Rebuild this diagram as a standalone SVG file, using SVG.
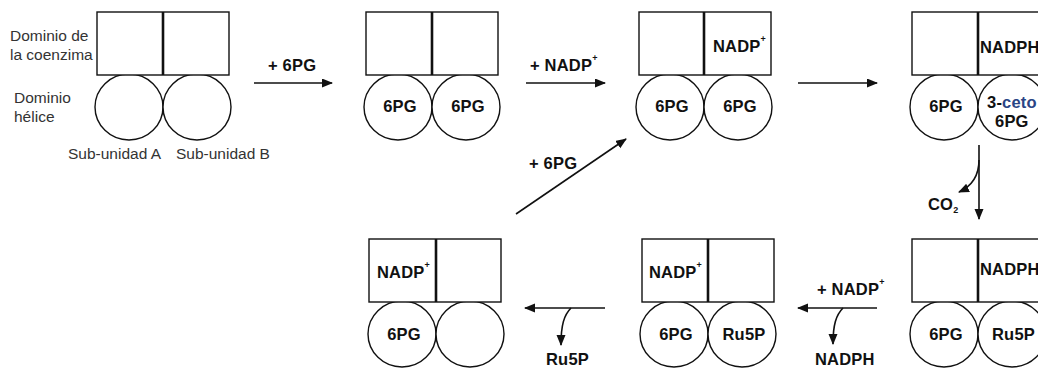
<svg xmlns="http://www.w3.org/2000/svg" width="1038" height="369" viewBox="0 0 1038 369">
<style>
.box{fill:#fff;stroke:#111;stroke-width:1.4}
.div{stroke:#111;stroke-width:2.6}
.c{fill:#fff;stroke:#111;stroke-width:1.4}
.t{font-family:"Liberation Sans",Arial,sans-serif;font-weight:bold;font-size:16.5px;letter-spacing:0.2px;fill:#111}
.tm{text-anchor:middle}
.n{font-family:"Liberation Sans",Arial,sans-serif;font-size:15.5px;fill:#333}
.sup{font-size:9px}
.ar{fill:none;stroke:#111;stroke-width:1.6}
</style>
<defs>
<marker id="ah" markerUnits="userSpaceOnUse" markerWidth="12" markerHeight="10" refX="10" refY="4.5" orient="auto">
<path d="M0,0 L11,4.5 L0,9 z" fill="#111"/>
</marker>
</defs>
<rect width="1038" height="369" fill="#fff"/>

<g id="labels">
<text class="n" x="10" y="41">Dominio de</text>
<text class="n" x="10" y="60">la coenzima</text>
<text class="n" x="14" y="103">Dominio</text>
<text class="n" x="14" y="122">hélice</text>
<text class="n" x="68" y="159">Sub-unidad A</text>
<text class="n" x="176" y="159">Sub-unidad B</text>
</g>

<g id="node1">
<ellipse class="c" cx="129" cy="107" rx="34" ry="33"/>
<ellipse class="c" cx="197" cy="107" rx="34" ry="33"/>
<rect class="box" x="97" y="12" width="132" height="63"/>
<line class="div" x1="163" y1="12" x2="163" y2="75"/>
</g>

<g id="node2">
<ellipse class="c" cx="398" cy="107" rx="34" ry="33"/>
<ellipse class="c" cx="466" cy="107" rx="34" ry="33"/>
<rect class="box" x="366" y="12" width="132" height="63"/>
<line class="div" x1="432" y1="12" x2="432" y2="75"/>
<text class="t tm" x="400" y="112">6PG</text>
<text class="t tm" x="468" y="112">6PG</text>
</g>

<g id="node3">
<ellipse class="c" cx="670" cy="107" rx="34" ry="33"/>
<ellipse class="c" cx="738" cy="107" rx="34" ry="33"/>
<rect class="box" x="639" y="12" width="132" height="63"/>
<line class="div" x1="704" y1="12" x2="704" y2="75"/>
<text class="t" x="713" y="52">NADP<tspan class="sup" dy="-10">+</tspan></text>
<text class="t tm" x="672" y="112">6PG</text>
<text class="t tm" x="740" y="112">6PG</text>
</g>

<g id="node4">
<ellipse class="c" cx="944" cy="107" rx="34" ry="33"/>
<ellipse class="c" cx="1012" cy="107" rx="34" ry="33"/>
<rect class="box" x="912" y="12" width="132" height="63"/>
<line class="div" x1="978" y1="12" x2="978" y2="75"/>
<text class="t" x="980" y="53">NADPH</text>
<text class="t tm" x="946" y="112">6PG</text>
<text class="t" x="987" y="108">3-<tspan fill="#2a4585">ceto</tspan></text>
<text class="t" x="995" y="127">6PG</text>
</g>

<g id="node5">
<ellipse class="c" cx="944" cy="334" rx="34" ry="33"/>
<ellipse class="c" cx="1012" cy="334" rx="34" ry="33"/>
<rect class="box" x="912" y="239" width="132" height="63"/>
<line class="div" x1="978" y1="239" x2="978" y2="302"/>
<text class="t" x="980" y="275">NADPH</text>
<text class="t tm" x="946" y="340">6PG</text>
<text class="t" x="992" y="340">Ru5P</text>
</g>

<g id="node6">
<ellipse class="c" cx="674" cy="334" rx="34" ry="33"/>
<ellipse class="c" cx="742" cy="334" rx="34" ry="33"/>
<rect class="box" x="642" y="239" width="132" height="63"/>
<line class="div" x1="708" y1="239" x2="708" y2="302"/>
<text class="t" x="649" y="278">NADP<tspan class="sup" dy="-10">+</tspan></text>
<text class="t tm" x="676" y="340">6PG</text>
<text class="t tm" x="744" y="340">Ru5P</text>
</g>

<g id="node7">
<ellipse class="c" cx="402" cy="334" rx="34" ry="33"/>
<ellipse class="c" cx="470" cy="334" rx="34" ry="33"/>
<rect class="box" x="369" y="239" width="132" height="63"/>
<line class="div" x1="436" y1="239" x2="436" y2="302"/>
<text class="t" x="377" y="278">NADP<tspan class="sup" dy="-10">+</tspan></text>
<text class="t tm" x="404" y="340">6PG</text>
</g>

<g id="connectors">
<line class="ar" x1="254" y1="83" x2="332" y2="83" marker-end="url(#ah)"/>
<text class="t" x="268" y="71">+ 6PG</text>
<line class="ar" x1="526" y1="83" x2="605" y2="83" marker-end="url(#ah)"/>
<text class="t" x="530" y="71">+ NADP<tspan class="sup" dy="-10">+</tspan></text>
<line class="ar" x1="798" y1="83" x2="877" y2="83" marker-end="url(#ah)"/>
<line class="ar" x1="979" y1="145" x2="979" y2="219" marker-end="url(#ah)"/>
<path class="ar" d="M979,160 C979,176 972,186 959,192" marker-end="url(#ah)"/>
<text class="t" x="928" y="210">CO<tspan class="sup" dy="3">2</tspan></text>
<line class="ar" x1="877" y1="308" x2="798" y2="308" marker-end="url(#ah)"/>
<text class="t" x="817" y="295">+ NADP<tspan class="sup" dy="-10">+</tspan></text>
<path class="ar" d="M843,308 C836,315 833,325 833,344" marker-end="url(#ah)"/>
<text class="t" x="815" y="365">NADPH</text>
<line class="ar" x1="605" y1="308" x2="525" y2="308" marker-end="url(#ah)"/>
<path class="ar" d="M571,308 C564,315 561,325 561,345" marker-end="url(#ah)"/>
<text class="t" x="546" y="365">Ru5P</text>
<line class="ar" x1="516" y1="214" x2="626" y2="139" marker-end="url(#ah)"/>
<text class="t" x="529" y="169">+ 6PG</text>
</g>
</svg>
